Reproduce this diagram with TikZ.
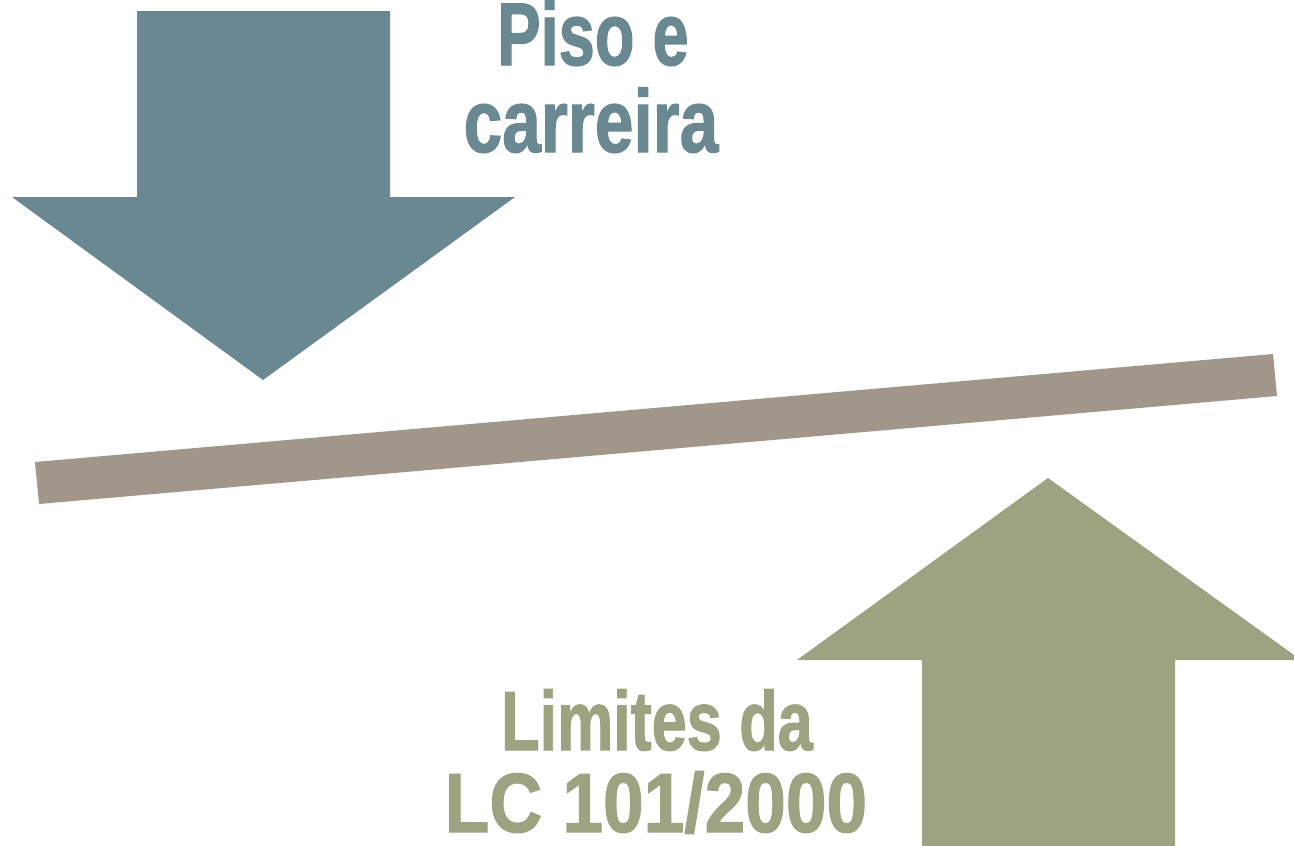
\documentclass[tikz,border=0pt]{standalone}
\usepackage{fontspec}
\newfontfamily\condfont{Liberation Sans Bold}[FakeBold=1.5]
\definecolor{downc}{HTML}{698891}
\definecolor{barc}{HTML}{A0968A}
\definecolor{upc}{HTML}{9CA381}
\tikzset{
  lbltop/.style={anchor=base,inner sep=0pt,transform shape,text=downc,font=\condfont\fontsize{89}{92}\selectfont},
  lblbot/.style={anchor=base,inner sep=0pt,transform shape,text=upc,font=\condfont\fontsize{84}{88}\selectfont}
}
\begin{document}
\begin{tikzpicture}[x=1pt,y=-1pt]
\useasboundingbox (0,0) rectangle (1294,846);
% down arrow
\fill[downc] (137,11) -- (390,11) -- (390,197) -- (515,197) -- (263,380) -- (12,197) -- (137,197) -- cycle;
% bar
\fill[barc] (35,462) -- (39,504) -- (1277,396) -- (1273,354) -- cycle;
% up arrow
\fill[upc] (1048,478) -- (1294,655) -- (1294,660) -- (1175,660) -- (1175,846) -- (922,846) -- (922,660) -- (797,660) -- cycle;
% labels
\node[lbltop,xscale=0.73] (t1) at (593,65) {Piso e};
\node[lbltop,xscale=0.78] (t2) at (591,152) {carreira};
\node[lblbot,xscale=0.75] (t3) at (657,750) {Limites da};
\node[lblbot,xscale=0.87] (t4) at (656,832) {LC 101/2000};
\end{tikzpicture}
\end{document}
